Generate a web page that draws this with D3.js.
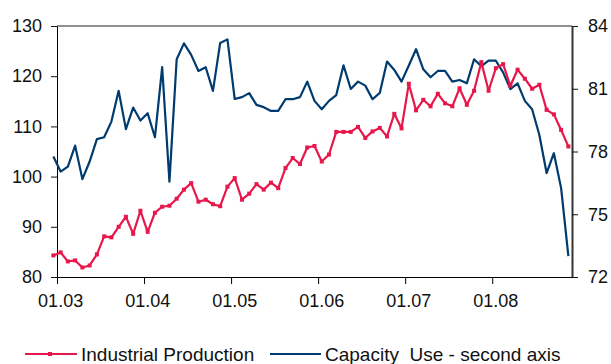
<!DOCTYPE html>
<html>
<head>
<meta charset="utf-8">
<script src="https://cdn.jsdelivr.net/npm/d3@7"></script>
<style>
  body { margin: 0; background: #fff; }
  svg { display: block; font-family: Arial, "Liberation Sans", sans-serif; }
</style>
</head>
<body>
<script>
// monthly values, Dec 2002 .. Nov 2008
var tickLabels = ["01.03", "01.04", "01.05", "01.06", "01.07", "01.08"];
var leftTicks = [80, 90, 100, 110, 120, 130];
var rightTicks = [72, 75, 78, 81, 84];
var seriesNames = ["Industrial Production", "Capacity  Use - second axis"];

var industrialProduction = [
  84.3, 84.9, 83.1, 83.3, 81.9, 82.3, 84.5, 88.1, 87.9, 90.0, 92.0, 88.6,
  93.2, 89.0, 92.8, 94.0, 94.2, 95.6, 97.4, 98.7, 95.0, 95.4, 94.5, 94.1,
  98.0, 99.7, 95.4, 96.6, 98.5, 97.4, 98.8, 97.7, 101.7, 103.7, 102.5, 105.8,
  106.1, 103.0, 104.4, 108.9, 108.9, 108.9, 109.9, 107.7, 109.0, 109.7, 108.0, 112.5,
  109.6, 118.5, 113.2, 115.3, 114.0, 116.5, 114.6, 114.0, 117.6, 114.3, 117.1, 122.8,
  117.1, 121.6, 122.4, 118.1, 121.3, 119.5, 117.5, 118.3, 113.3, 112.4, 109.3, 106.0
];

var capacityUse = [
  77.76, 77.04, 77.28, 78.28, 76.68, 77.52, 78.59, 78.68, 79.43, 80.90, 79.07, 80.10,
  79.48, 79.83, 78.68, 82.03, 76.56, 82.41, 83.17, 82.62, 81.85, 82.03, 80.90, 83.19,
  83.36, 80.51, 80.60, 80.79, 80.23, 80.12, 79.94, 79.94, 80.50, 80.50, 80.60, 81.34,
  80.42, 80.02, 80.42, 80.70, 82.12, 80.99, 81.34, 81.15, 80.50, 80.80, 82.30, 81.90,
  81.34, 82.11, 82.89, 81.93, 81.55, 81.85, 81.85, 81.34, 81.42, 81.26, 82.41, 82.08,
  82.34, 82.34, 81.78, 80.98, 81.26, 80.42, 80.02, 78.79, 76.97, 77.92, 76.25, 73.0
];

class DualAxisChart {
  constructor(width, height, margin) {
    this.margin = margin;
    this.width = width - margin.left - margin.right;
    this.height = height - margin.top - margin.bottom;

    this.svg = d3.select("body")
      .append("svg")
      .attr("width", width)
      .attr("height", height);

    this.g = this.svg.append("g")
      .attr("transform", "translate(" + margin.left + "," + margin.top + ")");

    // index 0 is Dec 2002, category boundaries sit on the half steps
    this.xScale = d3.scaleLinear().domain([0.5, 71.5]).range([0, this.width]);
    this.yLeft = d3.scaleLinear().domain([80, 130]).range([this.height, 0]);
    this.yRight = d3.scaleLinear().domain([72, 84]).range([this.height, 0]);
  }

  drawAxes() {
    var that = this;
    var g = this.g;

    // top border of the plot area
    g.append("line")
      .attr("x1", 0).attr("x2", this.width)
      .attr("y1", 0).attr("y2", 0)
      .attr("stroke", "#222").attr("stroke-width", 1.2);

    var leftAxis = d3.axisLeft(this.yLeft).tickValues(leftTicks)
      .tickSize(6).tickSizeOuter(0).tickPadding(9);
    var leftG = g.append("g").call(leftAxis);

    var rightAxis = d3.axisRight(this.yRight).tickValues(rightTicks)
      .tickSize(6).tickSizeOuter(0).tickPadding(10);
    var rightG = g.append("g")
      .attr("transform", "translate(" + this.width + ",0)")
      .call(rightAxis);
    rightG.select(".domain").attr("stroke", "#333").attr("stroke-width", 2);

    var tickPos = tickLabels.map(function(d, i) { return 0.5 + 12 * i; });
    var bottomAxis = d3.axisBottom(this.xScale).tickValues(tickPos)
      .tickSize(7).tickSizeOuter(0).tickFormat("");
    g.append("g")
      .attr("transform", "translate(0," + this.height + ")")
      .call(bottomAxis);

    // month labels sit under the January category
    g.append("g").selectAll("text")
      .data(tickLabels)
      .enter().append("text")
      .attr("x", function(d, i) { return that.xScale(1 + 12 * i); })
      .attr("y", this.height + 30)
      .attr("text-anchor", "middle")
      .attr("font-size", 18)
      .attr("fill", "#111")
      .text(function(d) { return d; });

    [leftG, rightG].forEach(function(a) {
      a.selectAll("text").attr("font-size", 18).attr("fill", "#111")
        .attr("font-family", "Arial, 'Liberation Sans', sans-serif");
      a.selectAll(".tick line").attr("stroke", "#111");
    });
  }

  drawSeries() {
    var that = this;

    var blueLine = d3.line()
      .x(function(d, i) { return that.xScale(i); })
      .y(function(d) { return that.yRight(d); });

    this.g.append("path")
      .datum(capacityUse)
      .attr("fill", "none")
      .attr("stroke", "#003b6f")
      .attr("stroke-width", 2.2)
      .attr("stroke-linejoin", "round")
      .attr("d", blueLine);

    var redLine = d3.line()
      .x(function(d, i) { return that.xScale(i); })
      .y(function(d) { return that.yLeft(d); });

    this.g.append("path")
      .datum(industrialProduction)
      .attr("fill", "none")
      .attr("stroke", "#e8174b")
      .attr("stroke-width", 2.2)
      .attr("stroke-linejoin", "round")
      .attr("d", redLine);

    this.g.append("g").selectAll("rect")
      .data(industrialProduction)
      .enter().append("rect")
      .attr("x", function(d, i) { return that.xScale(i) - 2; })
      .attr("y", function(d) { return that.yLeft(d) - 2; })
      .attr("width", 4)
      .attr("height", 4)
      .attr("fill", "#e8174b");
  }

  drawLegend() {
    var lg = this.svg.append("g").attr("transform", "translate(0,354)");

    lg.append("line").attr("x1", 25).attr("x2", 77).attr("y1", 0).attr("y2", 0)
      .attr("stroke", "#e8174b").attr("stroke-width", 2);
    lg.append("rect").attr("x", 48).attr("y", -2).attr("width", 4).attr("height", 4)
      .attr("fill", "#e8174b");
    lg.append("text").attr("x", 81).attr("y", 7).attr("font-size", 19)
      .attr("fill", "#111").text(seriesNames[0]);

    lg.append("line").attr("x1", 270).attr("x2", 321).attr("y1", 0).attr("y2", 0)
      .attr("stroke", "#003b6f").attr("stroke-width", 2);
    lg.append("text").attr("x", 325).attr("y", 7).attr("font-size", 19)
      .attr("fill", "#111").attr("xml:space", "preserve")
      .style("white-space", "pre")
      .text(seriesNames[1]);
  }
}

var chart = new DualAxisChart(611, 364, {top: 26, right: 39, bottom: 87, left: 57});
chart.drawAxes();
chart.drawSeries();
chart.drawLegend();
</script>
</body>
</html>
